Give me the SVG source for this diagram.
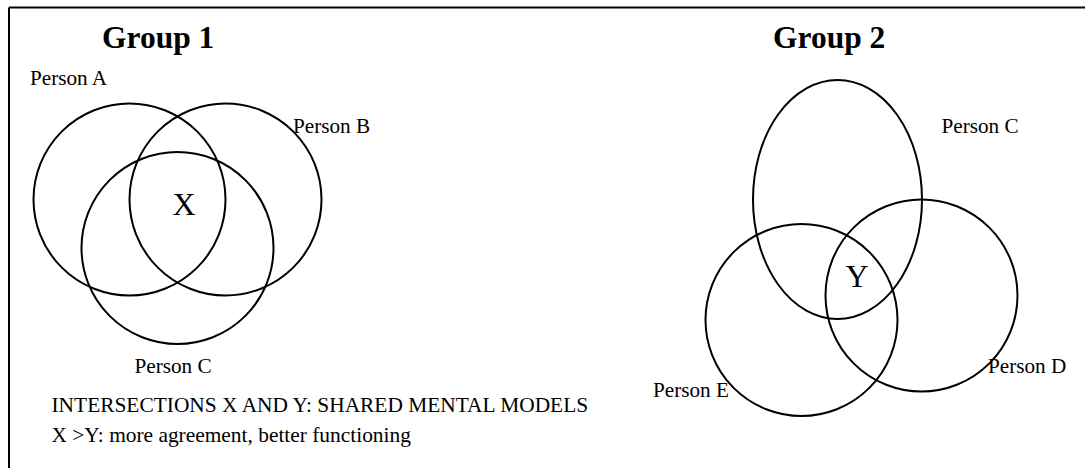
<svg xmlns="http://www.w3.org/2000/svg" width="1085" height="468" viewBox="0 0 1085 468">
<style>
.shape{fill:none;stroke:#000;stroke-width:2}
.title{font-family:"Liberation Serif","Times New Roman",serif;font-weight:bold;font-size:31.5px;fill:#000}
.lbl{font-family:"Liberation Serif","Times New Roman",serif;font-size:21.2px;fill:#000}
.note{font-family:"Liberation Serif","Times New Roman",serif;font-size:21.4px;fill:#000}
.big{font-family:"Liberation Serif","Times New Roman",serif;font-size:32px;fill:#000;text-anchor:middle}
</style>
<rect width="1085" height="468" fill="#fff"/>
<g id="frame">
<path class="shape" d="M9 7.5 H1085 M9 7.5 V468"/>
</g>
<g id="group1">
<text class="title" x="102" y="48">Group 1</text>
<g id="personA"><circle class="shape" cx="129.5" cy="199.5" r="96"/><text class="lbl" x="30" y="85">Person A</text></g>
<g id="personB"><circle class="shape" cx="225.5" cy="199.5" r="96"/><text class="lbl" x="293" y="133">Person B</text></g>
<g id="personC1"><circle class="shape" cx="177.5" cy="248" r="96"/><text class="lbl" x="134.5" y="373">Person C</text></g>
<text class="big" x="184" y="215">X</text>
</g>
<g id="group2">
<text class="title" x="773" y="48">Group 2</text>
<g id="personC2"><ellipse class="shape" cx="837.5" cy="199.5" rx="84.5" ry="119.5"/><text class="lbl" x="941.5" y="133">Person C</text></g>
<g id="personD"><circle class="shape" cx="921.5" cy="295.5" r="96"/><text class="lbl" x="988" y="373">Person D</text></g>
<g id="personE"><circle class="shape" cx="801.5" cy="320" r="96"/><text class="lbl" x="653" y="397">Person E</text></g>
<text class="big" x="857" y="287">Y</text>
</g>
<g id="notes">
<text class="note" x="51.5" y="412">INTERSECTIONS X AND Y: SHARED MENTAL MODELS</text>
<text class="note" x="51.5" y="442">X &gt;Y: more agreement, better functioning</text>
</g>
<g id="connectors"/>
</svg>
